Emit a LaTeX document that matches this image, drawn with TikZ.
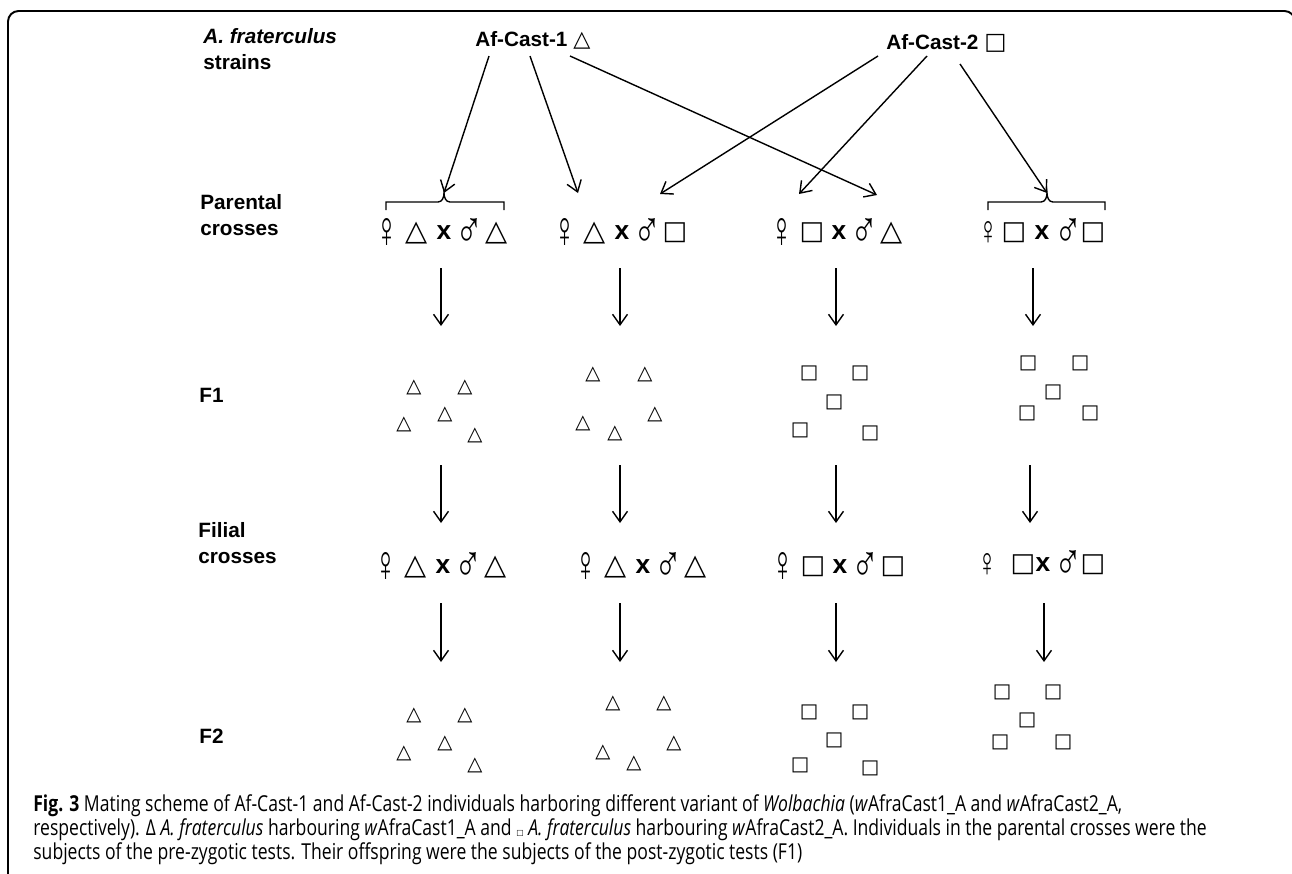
\documentclass[tikz,border=0pt]{standalone}
\usepackage{fontspec}
\usepackage{graphicx}
\setmainfont{Liberation Sans}
\newfontfamily\symfont{DejaVu Sans}
\newfontfamily\capfont[FakeStretch=0.8]{Open Sans}
\usetikzlibrary{arrows.meta,calc}

\newlength\pxu \setlength\pxu{0.02cm}
\newcommand{\glyph}[2]{\resizebox*{!}{#1\pxu}{#2}}
\newcommand{\cell}[2]{\makebox[#1\pxu]{$\vcenter{\hbox{#2}}$}}
\newcommand{\fem}{\resizebox*{23\pxu}{29\pxu}{♀}}
\newcommand{\smallfem}{\resizebox*{20\pxu}{23\pxu}{♀}}
\newcommand{\mal}{\resizebox*{28\pxu}{29\pxu}{♂}}
\newcommand{\tri}{\glyph{22}{\symfont △}}
\newcommand{\sqr}{\glyph{20}{\symfont □}}
\newcommand{\mx}{{\bfseries\fontsize{15}{15}\selectfont x}}
\newcommand{\crossing}[2]{\cell{30}{\fem}\cell{30}{#1}\cell{24}{\mx}\cell{26}{\mal}\cell{30}{#2}}

\tikzset{
  lbl/.style={font=\bfseries\fontsize{11.8}{14.8}\selectfont, inner sep=0pt, align=left, anchor=west},
  cross/.style={inner sep=0pt},
  arr/.style={-{Straight Barb[length=6pt,width=8.5pt]}, line width=0.8pt},
  offspring/.style={inner sep=0pt},
}

\begin{document}
\begin{tikzpicture}[x=0.02cm, y=-0.02cm]
    \useasboundingbox (0,0) rectangle (1292,873);

    % Frame
    \draw[line width=1.1pt, rounded corners=6pt] (8,880) -- (8,11) -- (1295,11) -- (1295,880);

    % Row labels
    \node[lbl] (species) at (203,49) {\textit{A. fraterculus}\\strains};
    \node[lbl] (parental) at (200,215) {Parental\\crosses};
    \node[lbl] (f1lbl) at (199,395) {F1};
    \node[lbl] (filial) at (198,543) {Filial\\crosses};
    \node[lbl] (f2lbl) at (199,736) {F2};

    % Strains
    \node[lbl] (strainA) at (475,40) {Af-Cast-1 \glyph{17}{\symfont\mdseries △}};
    \node[lbl] (strainB) at (886,43) {Af-Cast-2 \glyph{18}{\symfont\mdseries □}};

    % Parental crosses
    \node[cross] (pa1) at (442,233) {\crossing{\tri}{\tri}};
    \node[cross] (pa2) at (620,233) {\crossing{\tri}{\sqr}};
    \node[cross] (pa3) at (837,233) {\crossing{\sqr}{\tri}};
    \node[cross] (pa4) at (1041,233)
        {\cell{24}{\smallfem}\cell{28}{\sqr}\cell{28}{\mx}\cell{24}{\mal}\cell{26}{\sqr}};

    % Filial crosses
    \node[cross] (fi1) at (441,567) {\crossing{\tri}{\tri}};
    \node[cross] (fi2) at (641,567) {\crossing{\tri}{\tri}};
    \node[cross] (fi3) at (838,567) {\crossing{\sqr}{\sqr}};
    \node[cross] (fi4) at (1032,565)
        {\cell{50}{\smallfem}\cell{22}{\sqr}\cell{18}{\mx}\cell{32}{\mal}\cell{18}{\sqr}};

    % Braces over the pure crosses
    \coordinate (br1) at ($(pa1)+(2,-40)$);
    \coordinate (br4) at ($(pa4)+(6,-40)$);
    \draw[line width=0.8pt] (386,210) -- (386,202) -- (438,202)
        to[out=0,in=-90] (br1) to[out=-90,in=180] (450,202) -- (504,202) -- (504,210);
    \draw[line width=0.8pt] (988,210) -- (988,202) -- (1041,202)
        to[out=0,in=-90] (br4) to[out=-90,in=180] (1053,202) -- (1105,202) -- (1105,210);

    % Arrows from the strains
    \coordinate (a1) at ($(strainA.west)+(14,16)$);
    \coordinate (a2) at ($(strainA.west)+(55,16)$);
    \coordinate (a3) at ($(strainA.west)+(95,16)$);
    \coordinate (b1) at ($(strainB.west)+(-8,13)$);
    \coordinate (b2) at ($(strainB.west)+(41,13)$);
    \coordinate (b3) at ($(strainB.west)+(74,21)$);
    \coordinate (p2f) at ($(pa2)+(-42,-40)$);
    \coordinate (p2m) at ($(pa2)+(40,-39)$);
    \coordinate (p3f) at ($(pa3)+(-38,-39)$);
    \coordinate (p3m) at ($(pa3)+(40,-38)$);
    \draw[arr] (a1) -- (br1);
    \draw[arr] (a2) -- (p2f);
    \draw[arr] (a3) -- (p3m);
    \draw[arr] (b1) -- (p2m);
    \draw[arr] (b2) -- (p3f);
    \draw[arr] (b3) -- (br4);

    % Generation arrows
    \foreach \c/\xa/\xb/\xc in {1/441/441/441, 2/620/620/620, 3/836/836/836, 4/1033/1030/1044} {
        \coordinate (s1\c) at (\xa,268); \coordinate (e1\c) at (\xa,326);
        \coordinate (s2\c) at (\xb,465); \coordinate (e2\c) at (\xb,523);
        \coordinate (s3\c) at (\xc,603); \coordinate (e3\c) at (\xc,662);
        \draw[arr] (s1\c) -- (e1\c);
        \draw[arr] (s2\c) -- (e2\c);
        \draw[arr] (s3\c) -- (e3\c);
    }

    % F1 offspring
    \foreach \p [count=\i] in {(414,387),(465,387),(404,424),(445,414),(475,435),
                               (593,374),(645,374),(583,423),(615,433),(655,414)}
        \node[offspring] (f1t\i) at \p {\glyph{15}{\symfont △}};
    \foreach \p [count=\i] in {(809,373),(860,373),(834,402),(800,430),(870,433),
                               (1028,363),(1080,363),(1053,392),(1027,413),(1090,413)}
        \node[offspring] (f1s\i) at \p {\glyph{15}{\symfont □}};

    % F2 offspring
    \foreach \p [count=\i] in {(414,715),(465,715),(404,753),(445,743),(475,765),
                               (613,703),(664,703),(603,752),(634,763),(674,743)}
        \node[offspring] (f2t\i) at \p {\glyph{15}{\symfont △}};
    \foreach \p [count=\i] in {(809,712),(860,712),(834,740),(800,765),(870,768),
                               (1002,692),(1053,692),(1027,720),(1000,742),(1063,742)}
        \node[offspring] (f2s\i) at \p {\glyph{15}{\symfont □}};

    % Caption
    \node[anchor=north west, inner sep=0pt, align=left,
          font=\capfont\fontsize{12.5}{13.8}\selectfont] (caption) at (33,794)
        {\textbf{Fig. 3} Mating scheme of Af-Cast-1 and Af-Cast-2 individuals harboring different variant of \textit{Wolbachia} (\textit{w}AfraCast1\_A and \textit{w}AfraCast2\_A,\\
         respectively). Δ \textit{A. fraterculus} harbouring \textit{w}AfraCast1\_A and \glyph{6}{\symfont □} \textit{A. fraterculus} harbouring \textit{w}AfraCast2\_A. Individuals in the parental crosses were the\\
         subjects of the pre-zygotic tests. Their offspring were the subjects of the post-zygotic tests (F1)};
\end{tikzpicture}
\end{document}
